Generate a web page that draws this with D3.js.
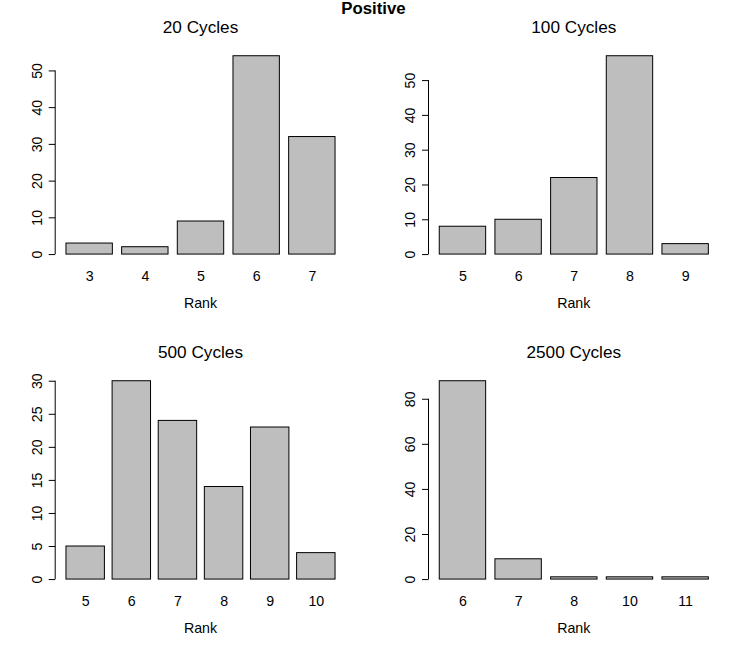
<!DOCTYPE html>
<html>
<head>
<meta charset="utf-8">
<script src="https://cdn.jsdelivr.net/npm/d3@7"></script>
<style>
  html, body { margin: 0; padding: 0; background: #fff; }
  svg { display: block; font-family: "Liberation Sans", Arial, Helvetica, sans-serif; }
</style>
</head>
<body>
<svg id="chart" width="747" height="650"></svg>
<script>
// ---- data ----
const overallTitle = "Positive";
const panelTitles = ["20 Cycles", "100 Cycles", "500 Cycles", "2500 Cycles"];
const ranks20 = ["3", "4", "5", "6", "7"];
const counts20 = [3, 2, 9, 54, 32];
const ranks100 = ["5", "6", "7", "8", "9"];
const counts100 = [8, 10, 22, 57, 3];
const ranks500 = ["5", "6", "7", "8", "9", "10"];
const counts500 = [5, 30, 24, 14, 23, 4];
const ranks2500 = ["6", "7", "8", "10", "11"];
const counts2500 = [88, 9, 1, 1, 1];
const ticks20 = [0, 10, 20, 30, 40, 50];
const ticks100 = [0, 10, 20, 30, 40, 50];
const ticks500 = [0, 5, 10, 15, 20, 25, 30];
const ticks2500 = [0, 20, 40, 60, 80];
const xLabel = "Rank";

const panels = [
  { title: panelTitles[0], names: ranks20, values: counts20, ticks: ticks20 },
  { title: panelTitles[1], names: ranks100, values: counts100, ticks: ticks100 },
  { title: panelTitles[2], names: ranks500, values: counts500, ticks: ticks500 },
  { title: panelTitles[3], names: ranks2500, values: counts2500, ticks: ticks2500 }
];

// ---- layout ----
const svg = d3.select("#chart");
const colX = [55.2, 428.5];
const plotW = 290.6;
const rowY = [47.8, 372.8];
const plotH = 214.2;
const fontBase = 14.2;

svg.append("text")
  .attr("x", 373.5).attr("y", 13.8)
  .attr("text-anchor", "middle")
  .attr("font-weight", "bold")
  .attr("font-size", 16.8)
  .text(overallTitle);

panels.forEach((p, i) => {
  const col = i % 2, row = Math.floor(i / 2);
  const left = colX[col], top = rowY[row];
  const g = svg.append("g");
  const n = p.values.length;
  const span = 1.2 * n - 0.2;
  const x = d3.scaleLinear()
    .domain([0.2 - 0.04 * span, 0.2 + span + 0.04 * span])
    .range([left, left + plotW]);
  const maxV = d3.max(p.values);
  const y = d3.scaleLinear()
    .domain([-0.04 * maxV, 1.04 * maxV])
    .range([top + plotH, top]);

  // bars
  g.selectAll("rect.bar").data(p.values).enter().append("rect")
    .attr("class", "bar")
    .attr("x", (d, j) => x(0.2 + 1.2 * j))
    .attr("width", (d, j) => x(1.2 + 1.2 * j) - x(0.2 + 1.2 * j))
    .attr("y", d => y(d))
    .attr("height", d => y(0) - y(d))
    .attr("fill", "#bebebe")
    .attr("stroke", "#000")
    .attr("stroke-width", 1);

  // y axis
  const yAxis = d3.axisLeft(y).tickValues(p.ticks).tickSize(6.5).tickPadding(0).tickFormat(d3.format("d"));
  const ag = g.append("g").attr("transform", `translate(${left},0)`).call(yAxis);
  ag.select(".domain").remove();
  ag.selectAll(".tick line").attr("stroke", "#000");
  ag.append("line")
    .attr("x1", 0).attr("x2", 0)
    .attr("y1", y(p.ticks[0])).attr("y2", y(p.ticks[p.ticks.length - 1]))
    .attr("stroke", "#000");
  ag.selectAll(".tick text")
    .attr("x", null).attr("dy", null)
    .attr("text-anchor", "middle")
    .attr("font-size", fontBase)
    .attr("font-family", "Liberation Sans, Arial, sans-serif")
    .attr("fill", "#000")
    .attr("transform", "translate(-13.5,0) rotate(-90)");

  // x labels (names)
  const centers = p.values.map((d, j) => 0.7 + 1.2 * j);
  const xAxis = d3.axisBottom(x).tickValues(centers).tickSize(0).tickPadding(0)
    .tickFormat((d, j) => p.names[j]);
  const xg = g.append("g").attr("transform", `translate(0,${top + plotH})`).call(xAxis);
  xg.select(".domain").remove();
  xg.selectAll(".tick text")
    .attr("y", 18.7).attr("dy", null)
    .attr("font-size", fontBase)
    .attr("font-family", "Liberation Sans, Arial, sans-serif")
    .attr("fill", "#000");

  // axis title
  g.append("text")
    .attr("x", left + plotW / 2).attr("y", top + plotH + 46.3)
    .attr("text-anchor", "middle")
    .attr("font-size", fontBase)
    .text(xLabel);

  // panel title
  g.append("text")
    .attr("x", left + plotW / 2).attr("y", top - 15.3)
    .attr("text-anchor", "middle")
    .attr("font-size", 17.2)
    .text(p.title);
});
</script>
</body>
</html>
